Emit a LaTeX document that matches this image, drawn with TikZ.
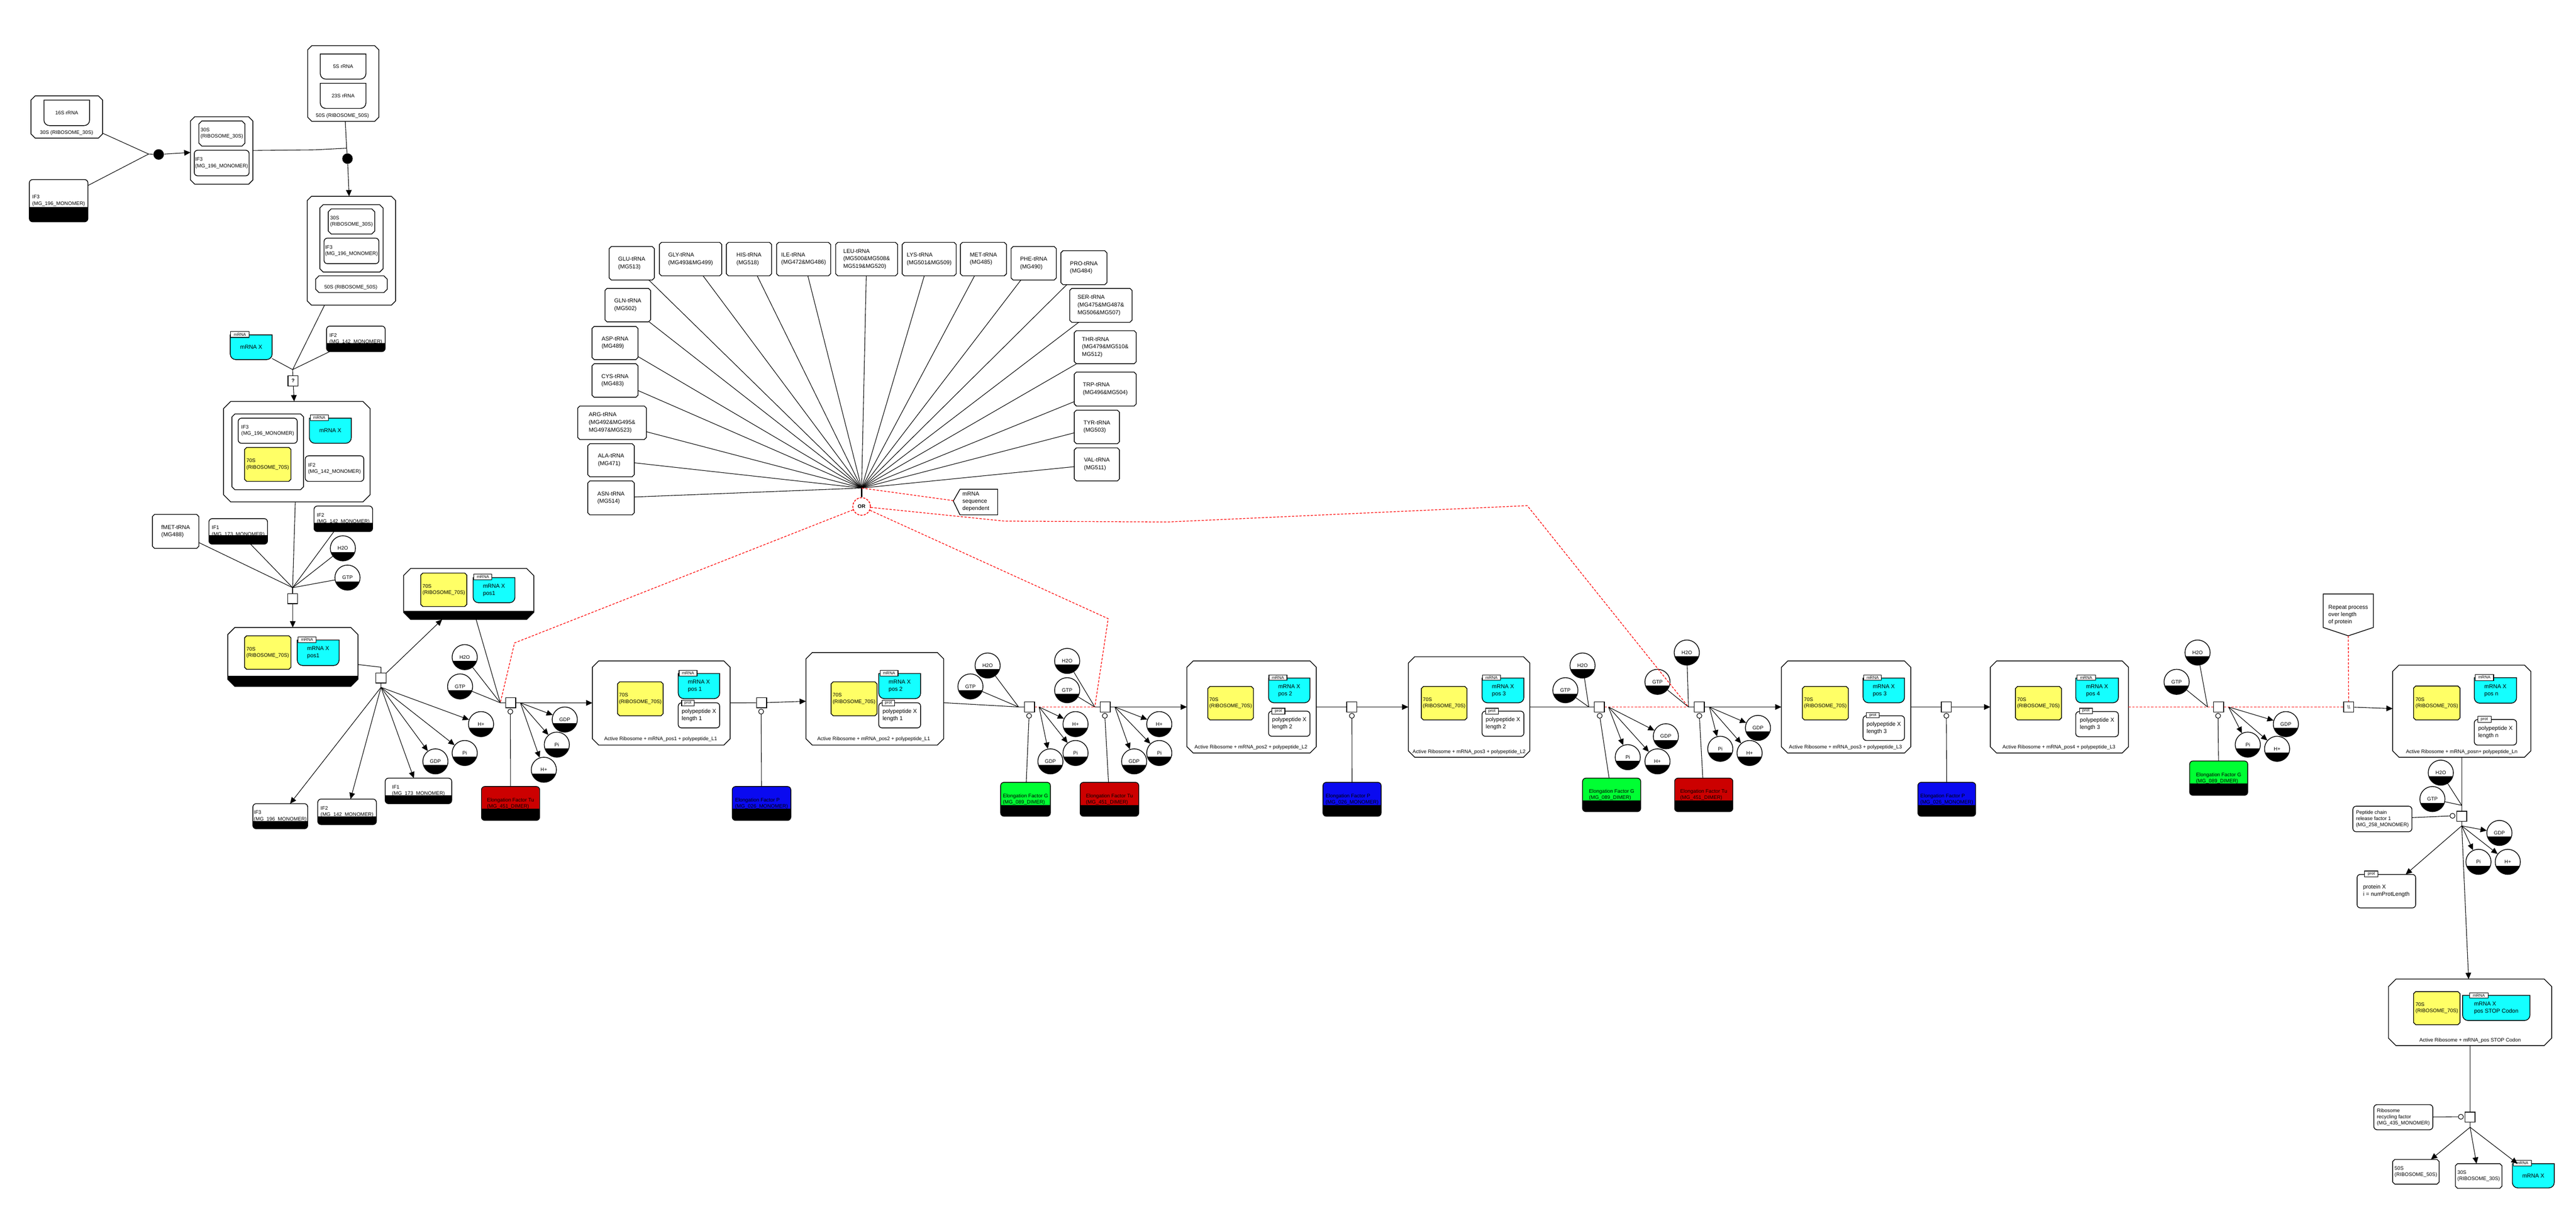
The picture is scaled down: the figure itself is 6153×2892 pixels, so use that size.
\documentclass[tikz,border=0pt]{standalone}
\usepackage{fontspec}
\setmainfont{Liberation Sans}
\usetikzlibrary{arrows.meta}
\definecolor{cyC}{RGB}{20,255,255}
\definecolor{yeC}{RGB}{255,255,102}
\definecolor{reC}{RGB}{204,0,0}
\definecolor{blC}{RGB}{10,10,240}
\definecolor{grC}{RGB}{0,255,51}
\newcommand\fA{\fontsize{3.45pt}{4.3pt}\selectfont}
\newcommand\fB{\fontsize{3.85pt}{4.9pt}\selectfont}
\newcommand\fL{\fontsize{3.85pt}{5.1pt}\selectfont}
\newcommand\fT{\fontsize{2.8pt}{3.2pt}\selectfont}
\tikzset{
 ln/.style={line width=0.38pt, black},
 arr/.style={ln, -{Triangle[length=1.5mm, width=1.35mm]}},
 bdr/.style={line width=0.5pt, black},
 bx/.style={inner sep=0pt, outer sep=0pt, align=left, font=\fA},
 proc/.style={draw, line width=0.5pt, fill=white, minimum size=2.4mm, inner sep=0pt, font=\fA},
 catc/.style={circle, draw, line width=0.38pt, fill=white, minimum size=1.2mm, inner sep=0pt},
 assoc/.style={circle, fill=black, minimum size=2.5mm, inner sep=0pt},
 chemn/.style={circle, minimum size=6mm, inner sep=0pt, font=\fA},
 tagn/.style={draw, line width=0.4pt, fill=white, inner sep=0pt, font=\fT},
 rdash/.style={red, line width=0.45pt, dash pattern=on 0.55mm off 0.35mm},
}
% complex / chamfered box: name x1 y1 x2 y2 cut fill font text
\newcommand\CPX[9]{%
 \draw[bdr, fill=#7] ({#2+#6},#3) -- ({#4-#6},#3) -- (#4,{#3+#6}) -- (#4,{#5-#6}) -- ({#4-#6},#5) -- ({#2+#6},#5) -- (#2,{#5-#6}) -- (#2,{#3+#6}) -- cycle;
 \node[bx, font=#8, minimum width={(#4-#2)*0.1mm}, minimum height={(#5-#3)*0.1mm}] (#1) at ({(#2+#4)/2},{(#3+#5)/2}) {#9};}
% complex with black band: name x1 y1 x2 y2 cut yb
\newcommand\CPXB[7]{%
 \fill[white] ({#2+#6},#3) -- ({#4-#6},#3) -- (#4,{#3+#6}) -- (#4,{#5-#6}) -- ({#4-#6},#5) -- ({#2+#6},#5) -- (#2,{#5-#6}) -- (#2,{#3+#6}) -- cycle;
 \begin{scope}
 \clip ({#2+#6},#3) -- ({#4-#6},#3) -- (#4,{#3+#6}) -- (#4,{#5-#6}) -- ({#4-#6},#5) -- ({#2+#6},#5) -- (#2,{#5-#6}) -- (#2,{#3+#6}) -- cycle;
 \fill[black] (#2,#7) rectangle (#4,#5);
 \end{scope}
 \draw[bdr] ({#2+#6},#3) -- ({#4-#6},#3) -- (#4,{#3+#6}) -- (#4,{#5-#6}) -- ({#4-#6},#5) -- ({#2+#6},#5) -- (#2,{#5-#6}) -- (#2,{#3+#6}) -- cycle;
 \node[bx, minimum width={(#4-#2)*0.1mm}, minimum height={(#5-#3)*0.1mm}] (#1) at ({(#2+#4)/2},{(#3+#5)/2}) {};}
% nucleic acid feature: name x1 y1 x2 y2 fill font text
\newcommand\NUC[8]{%
 \draw[bdr, fill=#6] (#2,#3) -- (#4,#3) -- (#4,{#5-13}) .. controls (#4,{#5-5.8}) and ({#4-5.8},#5) .. ({#4-13},#5) -- ({#2+13},#5) .. controls ({#2+5.8},#5) and (#2,{#5-5.8}) .. (#2,{#5-13}) -- cycle;
 \node[bx, font=#7, minimum width={(#4-#2)*0.1mm}, minimum height={(#5-#3)*0.1mm}] (#1) at ({(#2+#4)/2},{(#3+#5)/2}) {#8};}
% rounded rectangle: name x1 y1 x2 y2 fill font text
\newcommand\RR[8]{%
 \draw[bdr, fill=#6, rounded corners=0.8mm] (#2,#3) rectangle (#4,#5);
 \node[bx, font=#7, minimum width={(#4-#2)*0.1mm}, minimum height={(#5-#3)*0.1mm}] (#1) at ({(#2+#4)/2},{(#3+#5)/2}) {#8};}
% macromolecule with black state band: name x1 y1 x2 y2 yb fill text
\newcommand\MMB[8]{%
 \fill[#7, rounded corners=0.8mm] (#2,#3) rectangle (#4,#5);
 \node[bx, minimum width={(#4-#2)*0.1mm}, minimum height={(#5-#3)*0.1mm}] (#1) at ({(#2+#4)/2},{(#3+#5)/2}) {#8};
 \begin{scope}
 \clip[rounded corners=0.8mm] (#2,#3) rectangle (#4,#5);
 \fill[black] (#2,#6) rectangle (#4,#5);
 \end{scope}
 \draw[bdr, rounded corners=0.8mm] (#2,#3) rectangle (#4,#5);}
% simple chemical: name cx cy text
\newcommand\CHEM[4]{%
 \fill[white] (#2,#3) circle[radius=3mm];
 \begin{scope}
 \clip (#2,#3) circle[radius=3mm];
 \fill[black] ({#2-31},{#3+9}) rectangle ({#2+31},{#3+31});
 \end{scope}
 \draw[bdr] (#2,#3) circle[radius=3mm];
 \node[chemn] (#1) at (#2,#3) {#4};}
% tag: name x1 y1 x2 y2 text
\newcommand\TAG[6]{%
 \node[tagn, minimum width={(#4-#2)*0.1mm}, minimum height={(#5-#3)*0.1mm}] (#1) at ({(#2+#4)/2},{(#3+#5)/2}) {#6};}

\begin{document}
\begin{tikzpicture}[x=0.1mm, y=-0.1mm]
\fill[white] (0,0) rectangle (6153,2892);
\useasboundingbox (0,0) rectangle (6153,2892);

% ===== 30S + IF3, 50S =====
\CPX{cA}{74}{229}{245}{330}{10}{white}{\fA}{}
\NUC{rA}{105}{239}{214}{300}{white}{\fA}{16S rRNA}
\node[bx] (lA) at (159,317) {30S (RIBOSOME\_30S)};
\MMB{ifA}{70}{429}{210}{530}{495}{white}{IF3\\(MG\_196\_MONOMER)}
\node[assoc] (aA) at (379,369) {};
\coordinate (aAin) at (355,368);
\CPX{cB}{455}{279}{604}{440}{10}{white}{\fA}{}
\CPX{cBa}{475}{289}{585}{349}{7}{white}{\fA}{30S\\(RIBOSOME\_30S)}
\RR{cBb}{464}{359}{595}{420}{white}{\fA}{IF3\\(MG\_196\_MONOMER)}
\CPX{cC}{735}{109}{905}{290}{10}{white}{\fA}{}
\NUC{cCa}{765}{129}{874}{189}{white}{\fA}{5S rRNA}
\NUC{cCb}{765}{199}{874}{259}{white}{\fA}{23S rRNA}
\node[bx] (lC) at (818,277) {50S (RIBOSOME\_50S)};
\coordinate (aBin) at (828,354);
\coordinate (aBbend) at (752,358);
\node[assoc] (aB) at (830,379) {};
\CPX{cD}{734}{469}{945}{729}{10}{white}{\fA}{}
\CPX{cDa}{764}{489}{915}{650}{8}{white}{\fA}{}
\CPX{cDb}{784}{499}{895}{559}{7}{white}{\fA}{30S\\(RIBOSOME\_30S)}
\RR{cDc}{774}{569}{905}{630}{white}{\fA}{IF3\\(MG\_196\_MONOMER)}
\CPX{cDd}{754}{659}{925}{699}{8}{white}{\fA}{}
\node[bx] (lD) at (838,687) {50S (RIBOSOME\_50S)};

% ===== ? step =====
\NUC{mA}{550}{800}{650}{859}{cyC}{\fB}{mRNA X}
\TAG{tA}{551}{792}{595}{806}{mRNA}
\MMB{ifB}{780}{779}{920}{840}{819}{white}{IF2\\(MG\_142\_MONOMER)}
\coordinate (qin) at (699,883);
\node[proc, font=\bfseries\fA] (q) at (700,910) {?};
\CPX{cE}{534}{959}{884}{1199}{17}{white}{\fA}{}
\CPX{cEa}{554}{989}{725}{1170}{7}{white}{\fA}{}
\RR{cEb}{569}{999}{710}{1059}{white}{\fA}{IF3\\(MG\_196\_MONOMER)}
\CPX{cEc}{584}{1069}{695}{1150}{5}{yeC}{\fA}{70S\\(RIBOSOME\_70S)}
\NUC{cEd}{739}{999}{839}{1059}{cyC}{\fB}{mRNA X}
\TAG{tB}{741}{991}{784}{1005}{mRNA}
\RR{cEe}{729}{1089}{869}{1150}{white}{\fA}{IF2\\(MG\_142\_MONOMER)}

% ===== initiation =====
\CPX{fmet}{364}{1229}{475}{1310}{5}{white}{\fL}{fMET-tRNA\\(MG488)}
\MMB{ifC}{499}{1239}{639}{1300}{1279}{white}{IF1\\(MG\_173\_MONOMER)}
\MMB{ifD}{750}{1209}{890}{1270}{1249}{white}{IF2\\(MG\_142\_MONOMER)}
\CHEM{wA}{819}{1310}{H2O}
\CHEM{gA}{830}{1380}{GTP}
\coordinate (p0in) at (699,1404);
\node[proc] (p0) at (699,1430) {};
\CPXB{cF}{544}{1499}{855}{1640}{17}{1615}
\CPX{cFa}{584}{1519}{695}{1599}{5}{yeC}{\fA}{70S\\(RIBOSOME\_70S)}
\NUC{cFb}{710}{1529}{810}{1590}{cyC}{\fB}{mRNA X\\pos1}
\TAG{tC}{712}{1522}{755}{1535}{mRNA}
\coordinate (p1bend) at (910,1594);
\node[proc] (p1) at (910,1620) {};
\coordinate (p1out) at (910,1642);
\CHEM{hA}{1149}{1730}{H+}
\CHEM{iA}{1110}{1799}{Pi}
\CHEM{dA}{1040}{1819}{GDP}
\MMB{ifE}{920}{1859}{1079}{1920}{1900}{white}{IF1\\(MG\_173\_MONOMER)}
\MMB{ifF}{759}{1909}{899}{1970}{1950}{white}{IF2\\(MG\_142\_MONOMER)}
\MMB{ifG}{604}{1920}{735}{1980}{1961}{white}{IF3\\(MG\_196\_MONOMER)}
\CPXB{cG}{964}{1358}{1275}{1480}{17}{1459}
\CPX{cGa}{1005}{1369}{1115}{1449}{5}{yeC}{\fA}{70S\\(RIBOSOME\_70S)}
\NUC{cGb}{1130}{1380}{1230}{1440}{cyC}{\fB}{mRNA X\\pos1}
\TAG{tD}{1132}{1372}{1175}{1385}{mRNA}

% ===== cycle 1 =====
\CHEM{wB}{1110}{1570}{H2O}
\CHEM{gB}{1099}{1640}{GTP}
\coordinate (e1in) at (1195,1679);
\node[proc] (e1) at (1220,1679) {};
\node[catc] (k1) at (1219,1700) {};
\MMB{efA}{1150}{1879}{1289}{1960}{1932}{reC}{Elongation Factor Tu\\(MG\_451\_DIMER)}
\coordinate (e1out) at (1243,1679);
\CHEM{dB}{1349}{1719}{GDP}
\CHEM{iB}{1330}{1779}{Pi}
\CHEM{hB}{1299}{1839}{H+}
\CPX{cH}{1415}{1579}{1744}{1780}{15}{white}{\fA}{}
\node[bx] (lH) at (1578,1766) {Active Ribosome + mRNA\_pos1 + polypeptide\_L1};
\CPX{cHa}{1475}{1629}{1584}{1710}{5}{yeC}{\fA}{70S\\(RIBOSOME\_70S)}
\NUC{cHb}{1620}{1609}{1719}{1669}{cyC}{\fB}{mRNA X\\pos 1}
\TAG{tE}{1622}{1602}{1665}{1615}{mRNA}
\RR{cHc}{1620}{1679}{1719}{1739}{white}{\fB}{polypeptide X\\length 1}
\TAG{tF}{1628}{1673}{1658}{1686}{prot}
\node[proc] (e1p) at (1819,1679) {};
\node[catc] (k1p) at (1818,1700) {};
\MMB{epA}{1749}{1879}{1889}{1960}{1932}{blC}{Elongation Factor P\\(MG\_026\_MONOMER)}
\CPX{cI}{1925}{1559}{2254}{1780}{15}{white}{\fA}{}
\node[bx] (lI) at (2087,1766) {Active Ribosome + mRNA\_pos2 + polypeptide\_L1};
\CPX{cIa}{1985}{1629}{2095}{1710}{5}{yeC}{\fA}{70S\\(RIBOSOME\_70S)}
\NUC{cIb}{2099}{1609}{2199}{1669}{cyC}{\fB}{mRNA X\\pos 2}
\TAG{tG}{2102}{1602}{2145}{1615}{mRNA}
\RR{cIc}{2099}{1679}{2199}{1739}{white}{\fB}{polypeptide X\\length 1}
\TAG{tH}{2107}{1673}{2137}{1686}{prot}

% ===== cycle 2 =====
\CHEM{wC}{2359}{1590}{H2O}
\CHEM{gC}{2318}{1640}{GTP}
\coordinate (e2in) at (2433,1689);
\node[proc] (e2) at (2459,1689) {};
\node[catc] (k2) at (2458,1710) {};
\MMB{egA}{2390}{1869}{2509}{1950}{1923}{grC}{Elongation Factor G\\(MG\_089\_DIMER)}
\coordinate (e2out) at (2482,1689);
\CHEM{hC}{2569}{1730}{H+}
\CHEM{iC}{2569}{1799}{Pi}
\CHEM{dC}{2509}{1819}{GDP}
\CHEM{wD}{2549}{1579}{H2O}
\CHEM{gD}{2549}{1649}{GTP}
\coordinate (e3in) at (2615,1689);
\node[proc] (e3) at (2640,1689) {};
\node[catc] (k3) at (2639,1710) {};
\MMB{etB}{2580}{1869}{2720}{1950}{1923}{reC}{Elongation Factor Tu\\(MG\_451\_DIMER)}
\coordinate (e3out) at (2663,1689);
\CHEM{hD}{2769}{1730}{H+}
\CHEM{iD}{2769}{1799}{Pi}
\CHEM{dD}{2709}{1819}{GDP}
\CPX{cJ}{2835}{1579}{3144}{1799}{15}{white}{\fA}{}
\node[bx] (lJ) at (2988,1786) {Active Ribosome + mRNA\_pos2 + polypeptide\_L2};
\CPX{cJa}{2885}{1640}{2994}{1720}{5}{yeC}{\fA}{70S\\(RIBOSOME\_70S)}
\NUC{cJb}{3030}{1620}{3129}{1679}{cyC}{\fB}{mRNA X\\pos 2}
\TAG{tI}{3031}{1613}{3074}{1625}{mRNA}
\RR{cJc}{3030}{1699}{3129}{1759}{white}{\fB}{polypeptide X\\length 2}
\TAG{tJ}{3038}{1692}{3069}{1706}{prot}
\node[proc] (e3p) at (3229,1689) {};
\node[catc] (k3p) at (3229,1710) {};
\MMB{epB}{3160}{1869}{3299}{1950}{1923}{blC}{Elongation Factor P\\(MG\_026\_MONOMER)}
\CPX{cK}{3364}{1569}{3654}{1809}{15}{white}{\fA}{}
\node[bx] (lK) at (3509,1796) {Active Ribosome + mRNA\_pos3 + polypeptide\_L2};
\CPX{cKa}{3395}{1640}{3504}{1720}{5}{yeC}{\fA}{70S\\(RIBOSOME\_70S)}
\NUC{cKb}{3540}{1620}{3640}{1679}{cyC}{\fB}{mRNA X\\pos 3}
\TAG{tK}{3541}{1613}{3584}{1625}{mRNA}
\RR{cKc}{3540}{1699}{3640}{1759}{white}{\fB}{polypeptide X\\length 2}
\TAG{tL}{3548}{1692}{3579}{1706}{prot}

% ===== cycle 3 =====
\CHEM{wE}{3780}{1590}{H2O}
\CHEM{gE}{3739}{1649}{GTP}
\coordinate (e4in) at (3795,1689);
\node[proc] (e4) at (3820,1689) {};
\node[catc] (k4) at (3821,1710) {};
\MMB{egB}{3780}{1859}{3919}{1939}{1912}{grC}{Elongation Factor G\\(MG\_089\_DIMER)}
\coordinate (e4out) at (3842,1689);
\CHEM{dE}{3979}{1759}{GDP}
\CHEM{iE}{3888}{1809}{Pi}
\CHEM{hE}{3959}{1819}{H+}
\CHEM{wF}{4029}{1559}{H2O}
\CHEM{gF}{3959}{1629}{GTP}
\coordinate (e5in) at (4033,1689);
\node[proc] (e5) at (4059,1689) {};
\node[catc] (k5) at (4059,1710) {};
\MMB{etC}{4000}{1859}{4139}{1939}{1912}{reC}{Elongation Factor Tu\\(MG\_451\_DIMER)}
\coordinate (e5out) at (4083,1689);
\CHEM{dF}{4199}{1739}{GDP}
\CHEM{iF}{4109}{1789}{Pi}
\CHEM{hF}{4179}{1799}{H+}
\CPX{cL}{4255}{1579}{4564}{1799}{15}{white}{\fA}{}
\node[bx] (lL) at (4408,1786) {Active Ribosome + mRNA\_pos3 + polypeptide\_L3};
\CPX{cLa}{4305}{1640}{4415}{1720}{5}{yeC}{\fA}{70S\\(RIBOSOME\_70S)}
\NUC{cLb}{4450}{1620}{4549}{1679}{cyC}{\fB}{mRNA X\\pos 3}
\TAG{tM}{4452}{1613}{4494}{1625}{mRNA}
\RR{cLc}{4450}{1710}{4549}{1769}{white}{\fB}{polypeptide X\\length 3}
\TAG{tN}{4458}{1703}{4489}{1715}{prot}
\node[proc] (e5p) at (4649,1689) {};
\node[catc] (k5p) at (4649,1710) {};
\MMB{epC}{4581}{1869}{4719}{1950}{1923}{blC}{Elongation Factor P\\(MG\_026\_MONOMER)}
\CPX{cM}{4754}{1579}{5084}{1799}{15}{white}{\fA}{}
\node[bx] (lM) at (4918,1786) {Active Ribosome + mRNA\_pos4 + polypeptide\_L3};
\CPX{cMa}{4814}{1640}{4924}{1720}{5}{yeC}{\fA}{70S\\(RIBOSOME\_70S)}
\NUC{cMb}{4958}{1620}{5060}{1679}{cyC}{\fB}{mRNA X\\pos 4}
\TAG{tO}{4961}{1613}{5005}{1625}{mRNA}
\RR{cMc}{4958}{1700}{5060}{1760}{white}{\fB}{polypeptide X\\length 3}
\TAG{tP}{4967}{1692}{4998}{1705}{prot}

% ===== cycle 4 =====
\CHEM{wG}{5249}{1559}{H2O}
\CHEM{gG}{5199}{1629}{GTP}
\coordinate (e6in) at (5273,1689);
\node[proc] (e6) at (5299,1689) {};
\node[catc] (k6) at (5298,1710) {};
\MMB{egC}{5230}{1818}{5369}{1900}{1872}{grC}{Elongation Factor G\\(MG\_089\_DIMER)}
\coordinate (e6out) at (5323,1689);
\CHEM{dG}{5460}{1730}{GDP}
\CHEM{iG}{5369}{1779}{Pi}
\CHEM{hG}{5439}{1789}{H+}
\node[proc] (rep) at (5610,1689) {\textbackslash\textbackslash};
\draw[bdr, fill=white] (5549,1419) -- (5669,1419) -- (5669,1499) -- (5609,1519) -- (5549,1499) -- cycle;
\node[bx, font=\fB] (repn) at (5609,1469) {Repeat process\\over length\\of protein};
\coordinate (repb) at (5609,1519);
\CPX{cN}{5715}{1589}{6045}{1809}{15}{white}{\fA}{}
\node[bx] (lN) at (5880,1797) {Active Ribosome + mRNA\_posn+ polypeptide\_Ln};
\CPX{cNa}{5765}{1639}{5876}{1720}{5}{yeC}{\fA}{70S\\(RIBOSOME\_70S)}
\NUC{cNb}{5910}{1619}{6011}{1680}{cyC}{\fB}{mRNA X\\pos n}
\TAG{tQ}{5912}{1611}{5956}{1626}{mRNA}
\RR{cNc}{5910}{1719}{6011}{1780}{white}{\fB}{polypeptide X\\length n}
\TAG{tR}{5918}{1711}{5950}{1726}{prot}

% ===== termination =====
\CHEM{wH}{5830}{1846}{H2O}
\CHEM{gH}{5810}{1909}{GTP}
\coordinate (t1in) at (5880,1924);
\node[proc] (t1) at (5880,1950) {};
\node[catc] (kt1) at (5858,1949) {};
\RR{prf}{5620}{1926}{5761}{1987}{white}{\fA}{Peptide chain\\release factor 1\\(MG\_258\_MONOMER)}
\coordinate (t1out) at (5880,1973);
\CHEM{dH}{5970}{1990}{GDP}
\CHEM{iH}{5920}{2059}{Pi}
\CHEM{hH}{5990}{2059}{H+}
\RR{prx}{5630}{2089}{5770}{2169}{white}{\fB}{protein X\\i = numProtLength}
\TAG{tS}{5648}{2081}{5680}{2095}{prot}
\CPX{cO}{5705}{2339}{6095}{2498}{18}{white}{\fA}{}
\node[bx] (lO) at (5900,2486) {Active Ribosome + mRNA\_pos STOP Codon};
\CPX{cOa}{5765}{2369}{5876}{2448}{5}{yeC}{\fA}{70S\\(RIBOSOME\_70S)}
\NUC{cOb}{5882}{2378}{6043}{2438}{cyC}{\fB}{mRNA X\\pos STOP Codon}
\TAG{tT}{5899}{2372}{5943}{2384}{mRNA}
\node[proc] (t2) at (5900,2669) {};
\node[catc] (kt2) at (5878,2668) {};
\RR{rrf}{5670}{2639}{5811}{2699}{white}{\fA}{Ribosome\\recycling factor\\(MG\_435\_MONOMER)}
\coordinate (t2out) at (5900,2693);
\CPX{s50}{5715}{2770}{5826}{2829}{5}{white}{\fA}{50S\\(RIBOSOME\_50S)}
\CPX{s30}{5865}{2780}{5976}{2839}{5}{white}{\fA}{30S\\(RIBOSOME\_30S)}
\NUC{mZ}{6001}{2780}{6101}{2838}{cyC}{\fB}{mRNA X}
\TAG{tU}{6003}{2772}{6046}{2785}{mRNA}

% ===== tRNAs =====
\CPX{GLU}{1455}{589}{1563}{669}{5}{white}{\fL}{GLU-tRNA\\(MG513)}
\CPX{GLY}{1575}{579}{1724}{659}{5}{white}{\fL}{GLY-tRNA\\(MG493\&MG499)}
\CPX{HIS}{1735}{579}{1843}{659}{5}{white}{\fL}{HIS-tRNA\\(MG518)}
\CPX{ILE}{1855}{579}{1984}{659}{5}{white}{\fL}{ILE-tRNA\\(MG472\&MG486)}
\CPX{LEU}{1996}{579}{2144}{659}{5}{white}{\fL}{LEU-tRNA\\(MG500\&MG508\&\\MG519\&MG520)}
\CPX{LYS}{2155}{579}{2284}{659}{5}{white}{\fL}{LYS-tRNA\\(MG501\&MG509)}
\CPX{MET}{2294}{579}{2404}{659}{5}{white}{\fL}{MET-tRNA\\(MG485)}
\CPX{PHE}{2415}{589}{2523}{669}{5}{white}{\fL}{PHE-tRNA\\(MG490)}
\CPX{PRO}{2534}{599}{2644}{680}{5}{white}{\fL}{PRO-tRNA\\(MG484)}
\CPX{SER}{2555}{689}{2704}{770}{5}{white}{\fL}{SER-tRNA\\(MG475\&MG487\&\\MG506\&MG507)}
\CPX{THR}{2566}{790}{2714}{869}{5}{white}{\fL}{THR-tRNA\\(MG479\&MG510\&\\MG512)}
\CPX{TRP}{2566}{889}{2714}{970}{5}{white}{\fL}{TRP-tRNA\\(MG496\&MG504)}
\CPX{TYR}{2566}{980}{2674}{1060}{5}{white}{\fL}{TYR-tRNA\\(MG503)}
\CPX{VAL}{2566}{1070}{2674}{1149}{5}{white}{\fL}{VAL-tRNA\\(MG511)}
\CPX{GLN}{1445}{689}{1554}{769}{5}{white}{\fL}{GLN-tRNA\\(MG502)}
\CPX{ASP}{1414}{780}{1524}{859}{5}{white}{\fL}{ASP-tRNA\\(MG489)}
\CPX{CYS}{1414}{869}{1524}{949}{5}{white}{\fL}{CYS-tRNA\\(MG483)}
\CPX{ARG}{1380}{970}{1544}{1050}{5}{white}{\fL}{ARG-tRNA\\(MG492\&MG495\&\\MG497\&MG523)}
\CPX{ALA}{1404}{1060}{1515}{1139}{5}{white}{\fL}{ALA-tRNA\\(MG471)}
\CPX{ASN}{1404}{1149}{1515}{1230}{5}{white}{\fL}{ASN-tRNA\\(MG514)}
\coordinate (fan) at (2058,1166);
\node[circle, draw=red, dash pattern=on 0.5mm off 0.3mm, fill=white, minimum size=4.2mm, inner sep=0pt, line width=0.55pt, font=\bfseries\fA] (OR) at (2058,1210) {OR};
\draw[bdr, fill=white] (2293,1169) -- (2383,1169) -- (2383,1230) -- (2293,1230) -- (2277,1197) -- cycle;
\node[bx, font=\fB] (msd) at (2331,1199) {mRNA\\sequence\\dependent};
\coordinate (msdp) at (2277,1196);
\coordinate (ra1) at (1229,1536);
\coordinate (rb1) at (2647,1478);
\coordinate (rc1) at (2400,1245);
\coordinate (rc2) at (2789,1247);
\coordinate (rc3) at (3648,1208);

% ===== connectors =====
\draw[ln] (cA) -- (aAin);
\draw[ln] (ifA) -- (aAin);
\draw[ln] (aAin) -- (aA);
\draw[arr] (aA) -- (cB);
\draw[ln] (cB.east) -- (aBbend) -- (aBin);
\draw[ln] (cC) -- (aBin);
\draw[ln] (aBin) -- (aB);
\draw[arr] (aB) -- (cD);
\foreach \n in {cD,mA,ifB} \draw[ln] (\n) -- (qin);
\draw[ln] (qin) -- (q);
\draw[arr] (q) -- (cE);
\foreach \n in {cE,fmet,ifC,ifD,wA,gA} \draw[ln] (\n) -- (p0in);
\draw[ln] (p0in) -- (p0);
\draw[arr] (p0) -- (cF);
\draw[ln] (cF) -- (p1bend) -- (p1);
\draw[ln] (p1) -- (p1out);
\draw[arr] (p1) -- (cG);
\foreach \n in {hA,iA,dA,ifE,ifF,ifG} \draw[arr] (p1out) -- (\n);
% cycle 1
\foreach \n in {cG,wB,gB} \draw[ln] (\n) -- (e1in);
\draw[ln] (e1in) -- (e1);
\draw[arr] (e1) -- (cH);
\foreach \n in {dB,iB,hB} \draw[arr] (e1out) -- (\n);
\draw[ln] (efA) -- (k1);
\draw[ln] (cH) -- (e1p);
\draw[arr] (e1p) -- (cI);
\draw[ln] (epA) -- (k1p);
% cycle 2
\foreach \n in {cI,wC,gC} \draw[ln] (\n) -- (e2in);
\draw[ln] (e2in) -- (e2);
\draw[rdash] (e2) -- (e3in);
\foreach \n in {hC,iC,dC} \draw[arr] (e2out) -- (\n);
\draw[ln] (egA) -- (k2);
\foreach \n in {wD,gD} \draw[ln] (\n) -- (e3in);
\draw[ln] (e3in) -- (e3);
\draw[arr] (e3) -- (cJ);
\foreach \n in {hD,iD,dD} \draw[arr] (e3out) -- (\n);
\draw[ln] (etB) -- (k3);
\draw[ln] (cJ) -- (e3p);
\draw[arr] (e3p) -- (cK);
\draw[ln] (epB) -- (k3p);
% cycle 3
\foreach \n in {cK,wE,gE} \draw[ln] (\n) -- (e4in);
\draw[ln] (e4in) -- (e4);
\draw[rdash] (e4) -- (e5in);
\foreach \n in {dE,iE,hE} \draw[arr] (e4out) -- (\n);
\draw[ln] (egB) -- (k4);
\foreach \n in {wF,gF} \draw[ln] (\n) -- (e5in);
\draw[ln] (e5in) -- (e5);
\draw[arr] (e5) -- (cL);
\foreach \n in {dF,iF,hF} \draw[arr] (e5out) -- (\n);
\draw[ln] (etC) -- (k5);
\draw[ln] (cL) -- (e5p);
\draw[arr] (e5p) -- (cM);
\draw[ln] (epC) -- (k5p);
% cycle 4
\draw[rdash] (cM) -- (e6);
\foreach \n in {wG,gG} \draw[ln] (\n) -- (e6in);
\foreach \n in {dG,iG,hG} \draw[arr] (e6out) -- (\n);
\draw[ln] (egC) -- (k6);
\draw[rdash] (e6) -- (rep);
\draw[rdash] (repb) -- (rep);
\draw[arr] (rep) -- (cN);
% termination
\foreach \n in {cN,wH,gH} \draw[ln] (\n) -- (t1in);
\draw[ln] (t1in) -- (t1);
\draw[ln] (prf) -- (kt1);
\draw[ln] (t1) -- (t1out);
\foreach \n in {dH,iH,hH,prx,cO} \draw[arr] (t1out) -- (\n);
\draw[ln] (cO) -- (t2);
\draw[ln] (rrf) -- (kt2);
\draw[ln] (t2) -- (t2out);
\foreach \n in {s50,s30,mZ} \draw[arr] (t2out) -- (\n);
% tRNA fan and OR
\foreach \n in {GLU,GLY,HIS,ILE,LEU,LYS,MET,PHE,PRO,SER,THR,TRP,TYR,VAL,GLN,ASP,CYS,ARG,ALA,ASN} \draw[ln] (\n) -- (fan);
\draw[line width=0.9pt] (fan) -- (OR);
\draw[rdash] (fan) -- (msdp);
\draw[rdash] (OR) -- (ra1) -- (e1in);
\draw[rdash] (OR) -- (rb1) -- (e3in);
\draw[rdash] (OR) -- (rc1) -- (rc2) -- (rc3) -- (e5in);
\end{tikzpicture}
\end{document}
